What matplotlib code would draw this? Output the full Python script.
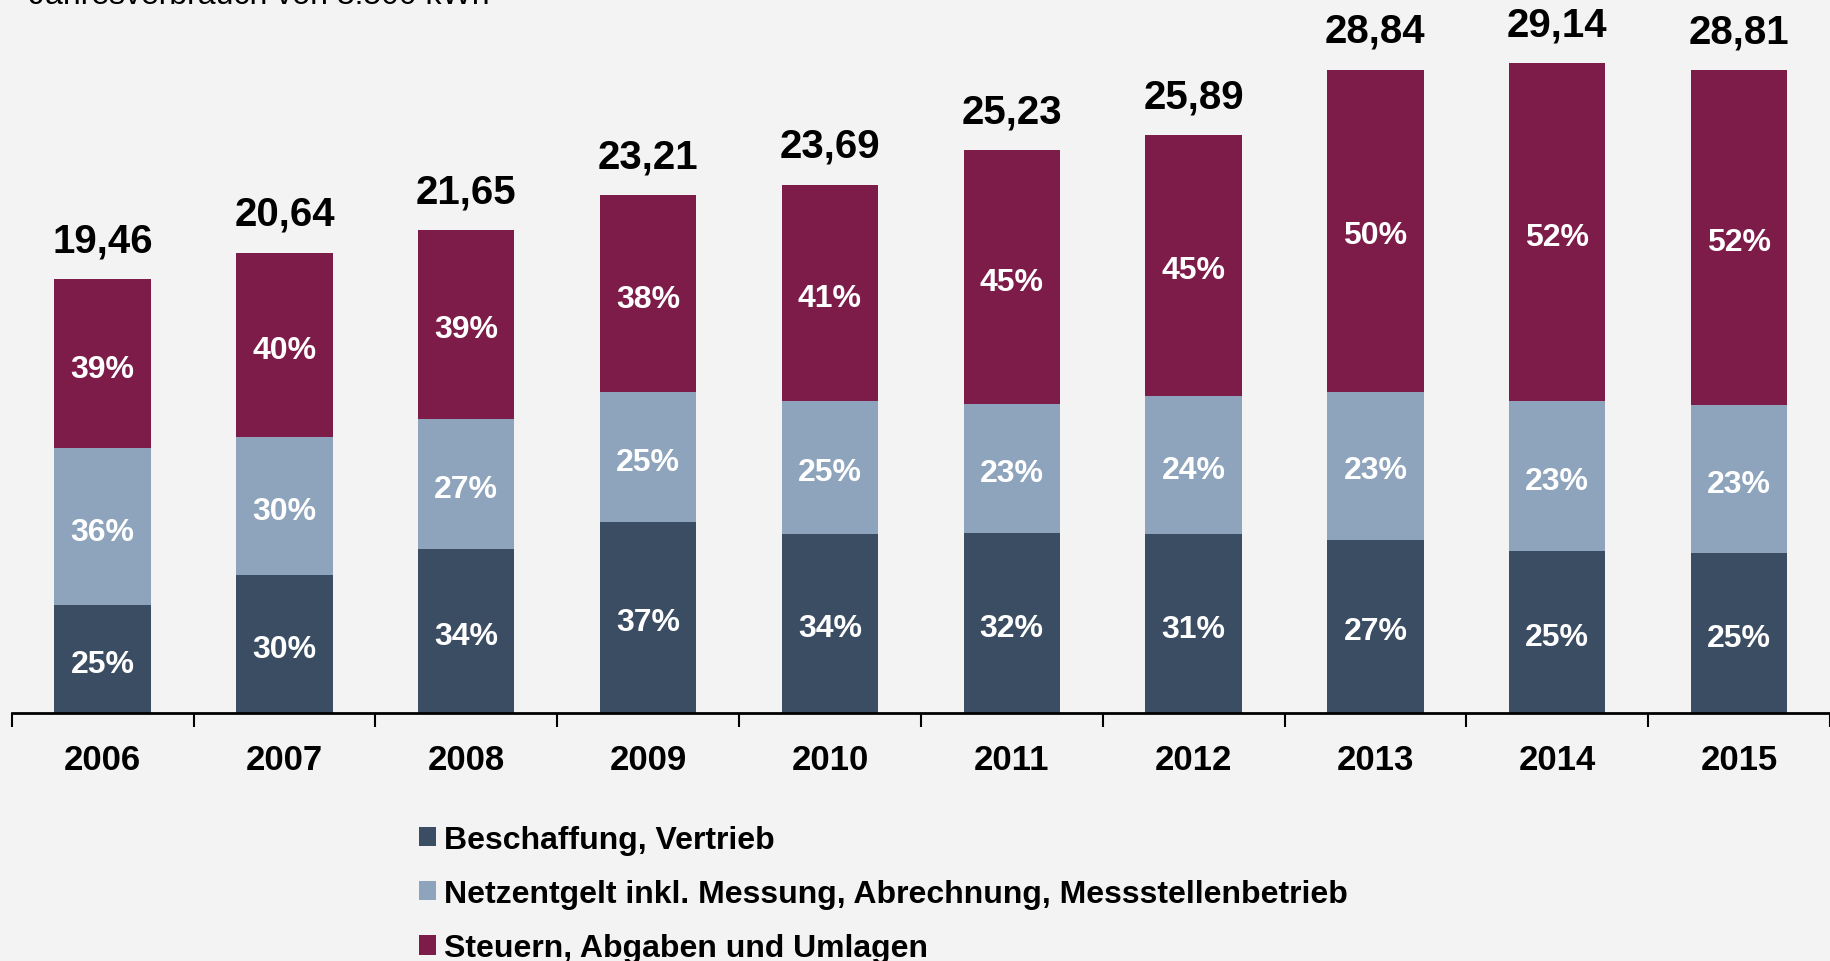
import matplotlib
matplotlib.use("Agg")
import matplotlib.pyplot as plt
import numpy as np

years = ["2006", "2007", "2008", "2009", "2010", "2011", "2012", "2013", "2014", "2015"]
totals = [19.46, 20.64, 21.65, 23.21, 23.69, 25.23, 25.89, 28.84, 29.14, 28.81]
total_labels = ["19,46", "20,64", "21,65", "23,21", "23,69", "25,23", "25,89", "28,84", "29,14", "28,81"]
pct_beschaffung = [25, 30, 34, 37, 34, 32, 31, 27, 25, 25]
pct_netz = [36, 30, 27, 25, 25, 23, 24, 23, 23, 23]
pct_steuern = [39, 40, 39, 38, 41, 45, 45, 50, 52, 52]
series_names = ["Beschaffung, Vertrieb",
                "Netzentgelt inkl. Messung, Abrechnung, Messstellenbetrieb",
                "Steuern, Abgaben und Umlagen"]
colors = ["#3B4D63", "#8DA4BC", "#7D1B49"]
subtitle = "Jahresverbrauch von 3.500 kWh"

plt.rcParams['font.family'] = ['Liberation Sans', 'DejaVu Sans']
bg = "#F3F3F3"
fig = plt.figure(figsize=(18.3, 9.62), dpi=100, facecolor=bg)
ax = fig.add_axes([0.0064, 0.2573, 0.9936, 0.7427], facecolor=bg)

x = np.arange(len(years))
totals_a = np.array(totals)
pcts = [np.array(pct_beschaffung), np.array(pct_netz), np.array(pct_steuern)]
bottom = np.zeros(len(years))
handles = []
for pct, c, name in zip(pcts, colors, series_names):
    seg = totals_a * pct / 100.0
    h = ax.bar(x, seg, width=0.53, bottom=bottom, color=c, label=name)
    handles.append(h)
    for xi, b, s, p in zip(x, bottom, seg, pct):
        ax.annotate(f"{p}%", (xi, b + s / 2), xytext=(0, -3.5), textcoords="offset points",
                    ha="center", va="center", color="white", fontsize=23, fontweight="bold")
    bottom = bottom + seg

for xi, t, lab in zip(x, totals, total_labels):
    ax.annotate(lab, (xi, t), xytext=(0, 20), textcoords="offset points",
                ha="center", va="baseline", fontsize=29, fontweight="bold", color="black")

ax.set_xlim(-0.5, 9.5)
ax.set_ylim(0, 32)
for s in ["top", "right", "left"]:
    ax.spines[s].set_visible(False)
ax.spines["bottom"].set_linewidth(2)
ax.spines["bottom"].set_color("black")
ax.set_yticks([])
ax.set_xticks(x)
ax.set_xticklabels(years, fontsize=25, fontweight="bold")
ax.tick_params(axis="x", which="major", length=0, pad=21)
ax.set_xticks(np.arange(-0.5, 10, 1.0), minor=True)
ax.tick_params(axis="x", which="minor", length=10, width=1.5, color="black")

fig.text(0.016, 0.9958, subtitle, fontsize=23, ha="left", va="baseline", color="black")

leg = fig.legend(handles=handles, labels=series_names, loc="upper left",
                 bbox_to_anchor=(0.213, 0.1715), frameon=False,
                 prop={"weight": "bold", "size": 23}, handlelength=0.54,
                 handleheight=0.54, handletextpad=0.25, labelspacing=0.76)

fig.savefig("out.png", dpi=100, facecolor=bg)
